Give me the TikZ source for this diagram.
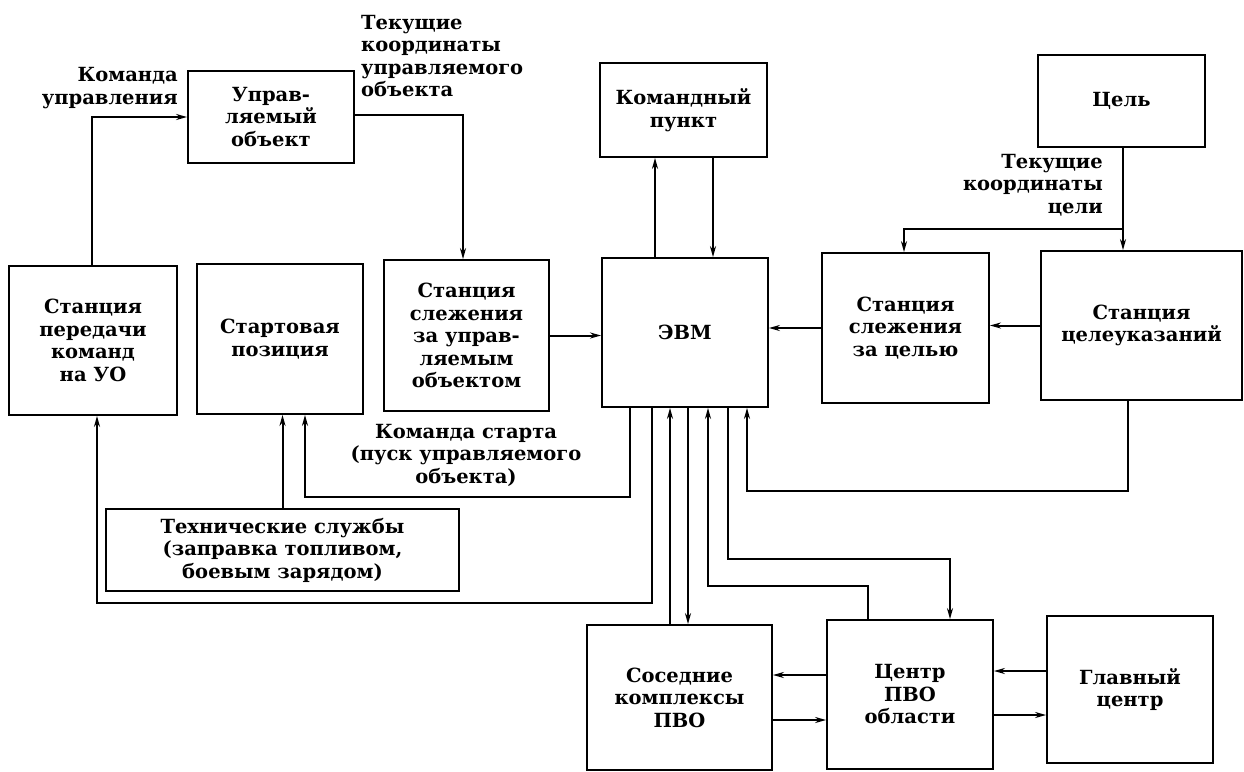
\documentclass[tikz,border=0pt]{standalone}
\usepackage{fontspec}
\setmainfont{DejaVu Serif}
\usetikzlibrary{arrows.meta,calc}
\begin{document}
\begin{tikzpicture}[x=1pt,y=-1pt,
  box/.style={draw,line width=1.8pt,rectangle,inner sep=0pt,align=center,
    font=\bfseries\fontsize{19.5}{22.5}\selectfont},
  lbl/.style={inner sep=0pt,font=\bfseries\fontsize{19.5}{22.5}\selectfont},
  arr/.style={line width=2pt,-{Stealth[length=11pt,width=6pt]}},
  ln/.style={line width=2pt}]
\useasboundingbox (0,0) rectangle (1244,771);
\fill[white] (0,0) rectangle (1244,771);
% boxes
\node[box,minimum width=166pt,minimum height=92pt] (uo) at (271,117) {Управ-\\ляемый\\объект};
\node[box,minimum width=167pt,minimum height=94pt] (kp) at (683.5,110) {Командный\\пункт};
\node[box,minimum width=167pt,minimum height=92pt] (cel) at (1121.5,101) {Цель};
\node[box,minimum width=168pt,minimum height=149pt] (spk) at (93,340.5) {Станция\\передачи\\команд\\на УО};
\node[box,minimum width=166pt,minimum height=150pt] (sp) at (280,339) {Стартовая\\позиция};
\node[box,minimum width=165pt,minimum height=151pt] (ssuo) at (466.5,335.5) {Станция\\слежения\\за управ-\\ляемым\\объектом};
\node[box,minimum width=166pt,minimum height=149pt] (evm) at (685,332.5) {ЭВМ};
\node[box,minimum width=167pt,minimum height=150pt] (ssc) at (905.5,328) {Станция\\слежения\\за целью};
\node[box,minimum width=201pt,minimum height=149pt] (scu) at (1141.5,325.5) {Станция\\целеуказаний};
\node[box,minimum width=353pt,minimum height=82pt] (ts) at (282.5,550) {Технические службы\\(заправка топливом,\\боевым зарядом)};
\node[box,minimum width=185pt,minimum height=145pt] (sk) at (679.5,697.5) {Соседние\\комплексы\\ПВО};
\node[box,minimum width=166pt,minimum height=149pt] (cpvo) at (910,694.5) {Центр\\ПВО\\области};
\node[box,minimum width=166pt,minimum height=147pt] (gc) at (1130,689.5) {Главный\\центр};
% labels
\node[lbl,anchor=east,align=right] (l1) at (178,88) {Команда\\управления};
\node[lbl,anchor=west,align=left] (l2) at (361,56) {Текущие\\координаты\\управляемого\\объекта};
\node[lbl,anchor=east,align=right] (l3) at (1103,185) {Текущие\\координаты\\цели};
\node[lbl,align=center] (l4) at (466,455) {Команда старта\\(пуск управляемого\\объекта)};
% connectors
\draw[arr] ([xshift=-1pt]spk.north) |- (uo.west);
\draw[arr] ([yshift=2pt]uo.east) -| ([xshift=-3.5pt]ssuo.north);
\draw[arr] (ssuo.east) -- (ssuo.east -| evm.west);
\draw[arr] (ssc.west) -- (ssc.west -| evm.east);
\draw[arr] (scu.west) -- (scu.west -| ssc.east);
\draw[arr] ([xshift=-30pt]evm.north) -- ([xshift=-30pt]evm.north |- kp.south);
\draw[arr] ([xshift=28pt]evm.north |- kp.south) -- ([xshift=28pt]evm.north);
\draw[arr] ([xshift=1.5pt]cel.south) -- ([xshift=1.5pt]cel.south |- scu.north);
\coordinate (j) at ($([xshift=1.5pt]cel.south)+(0,81)$);
\draw[arr] (j) -| ([xshift=-1.5pt]ssc.north);
\draw[arr] (ts.north) -- (ts.north |- sp.south);
\draw[arr] ([xshift=-55pt]evm.south) -- ++(0,89) -| ([xshift=25pt]sp.south);
\draw[arr] ([xshift=-33pt]evm.south) -- ++(0,195) -| ([xshift=4pt]spk.south);
\draw[arr] ([xshift=-15pt]evm.south |- sk.north) -- ([xshift=-15pt]evm.south);
\draw[arr] ([xshift=3pt]evm.south) -- ([xshift=3pt]evm.south |- sk.north);
\draw[arr] ([xshift=-42pt]cpvo.north) -- ++(0,-33) -| ([xshift=23pt]evm.south);
\draw[arr] ([xshift=43pt]evm.south) -- ++(0,151) -| ([xshift=40pt]cpvo.north);
\draw[arr] ([xshift=-13.5pt]scu.south) -- ++(0,90) -| ([xshift=62pt]evm.south);
\draw[arr] (cpvo.west |- 0,675) -- (sk.east |- 0,675);
\draw[arr] (sk.east |- 0,720) -- (cpvo.west |- 0,720);
\draw[arr] (gc.west |- 0,671) -- (cpvo.east |- 0,671);
\draw[arr] (cpvo.east |- 0,715) -- (gc.west |- 0,715);
\end{tikzpicture}
\end{document}
